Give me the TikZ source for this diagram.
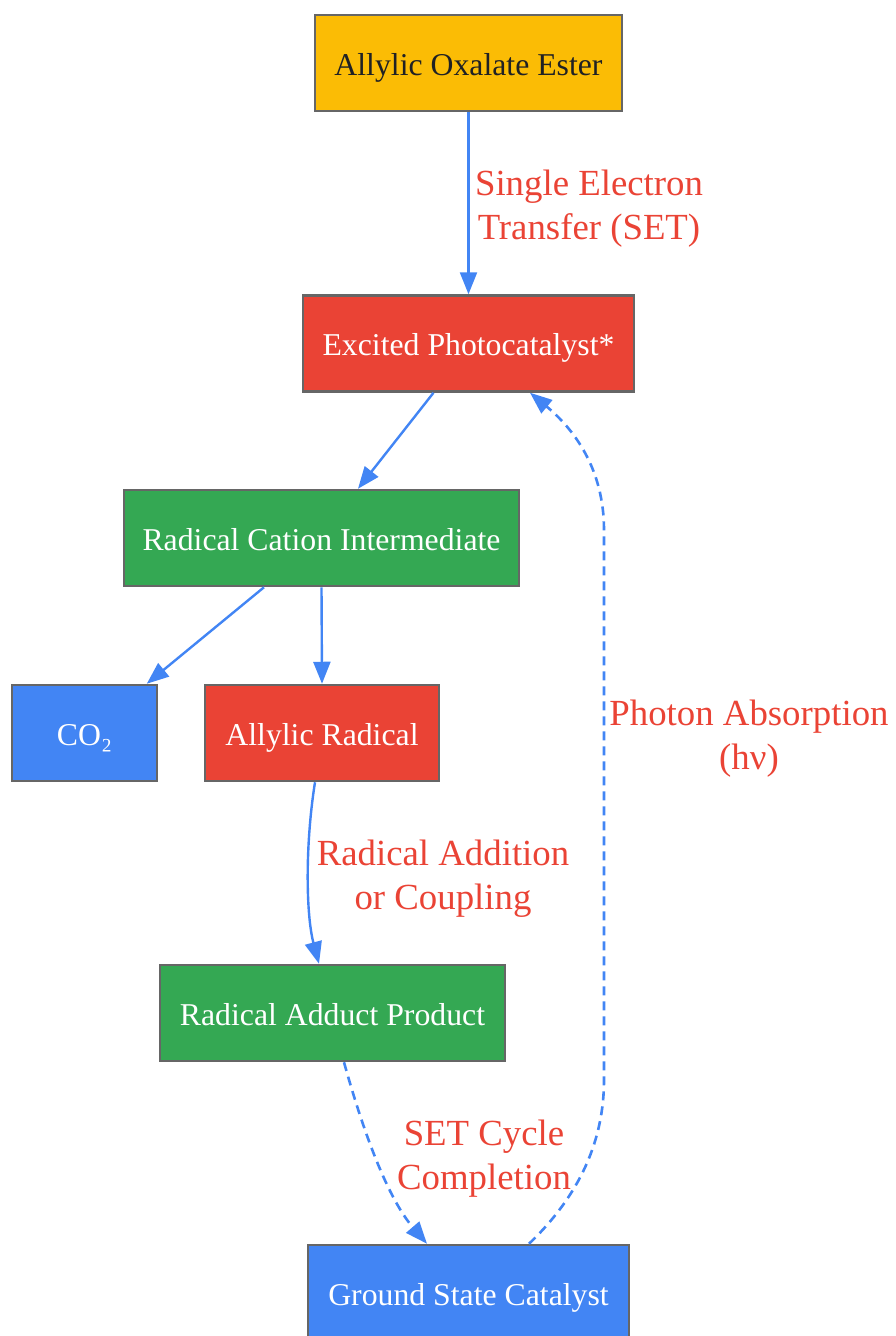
\documentclass[tikz,border=0pt]{standalone}
\usepackage{fontspec}
\setmainfont{Liberation Serif}
\usetikzlibrary{arrows.meta}
\definecolor{cyellow}{HTML}{FBBC05}
\definecolor{cred}{HTML}{EA4335}
\definecolor{cgreen}{HTML}{34A853}
\definecolor{cblue}{HTML}{4285F4}
\definecolor{cborder}{HTML}{666666}
\definecolor{cdark}{HTML}{202124}
\tikzset{
  box/.style={draw=cborder, line width=2.5pt, minimum height=96pt, inner sep=0pt,
    text height=24pt, text depth=0pt,
    font=\fontsize{31.75}{36}\selectfont, text=white},
  lbl/.style={text=cred, align=center, inner sep=0pt,
    font=\fontsize{36.8}{44}\selectfont},
  conn/.style={draw=cblue, line width=2.4pt, -{Triangle[length=22pt,width=17pt]}},
  dconn/.style={conn, line width=2.6pt, dash pattern=on 9pt off 6pt}
}
\begin{document}
\begin{tikzpicture}[x={(1pt,0)}, y={(0,-1pt)}]
\useasboundingbox (0,0) rectangle (895,1336);
\node[box, fill=cyellow, text=cdark, minimum width=307pt] (ester) at (468.5,63) {Allylic Oxalate Ester};
\node[box, fill=cred, minimum width=331pt] (exc) at (468.5,343.5) {Excited Photocatalyst*};
\node[box, fill=cgreen, minimum width=395pt] (cat) at (321.5,538) {Radical Cation Intermediate};
\node[box, fill=cblue, minimum width=145pt] (co2) at (84.5,733) {CO₂};
\node[box, fill=cred, minimum width=234pt] (ar) at (322,733) {Allylic Radical};
\node[box, fill=cgreen, minimum width=345pt] (add) at (332.5,1013) {Radical Adduct Product};
\node[box, fill=cblue, minimum width=321pt] (gs) at (468.5,1293) {Ground State Catalyst};

\draw[conn] (ester.south) -- (exc.north);
\draw[conn] ([xshift=-35pt]exc.south) -- ([xshift=36.5pt]cat.north);
\draw[conn] ([xshift=-57.5pt]cat.south) -- ([xshift=-11.5pt]co2.north east);
\draw[conn] (cat.south) -- (ar.north);
\draw[conn] ([xshift=-7pt]ar.south) .. controls (305,845) and (306,915) .. ([xshift=-13.5pt]add.north);
\draw[dconn] ([xshift=11.5pt]add.south) .. controls (360,1120) and (385,1195) .. ([xshift=-41.5pt]gs.north);
\coordinate (r1) at (604,1080);
\coordinate (r2) at (604,530);
\draw[dconn] ([xshift=60.5pt]gs.north) .. controls (580,1195) and (604,1140) .. (r1) -- (r2) .. controls (604,470) and (575,430) .. ([xshift=61.5pt]exc.south);

\node[lbl] (l1) at (589,209) {Single Electron\\Transfer (SET)};
\node[lbl] (l2) at (443,879) {Radical Addition\\or Coupling};
\node[lbl] (l3) at (484,1159) {SET Cycle\\Completion};
\node[lbl] (l4) at (749,739) {Photon Absorption\\(hν)};
\end{tikzpicture}
\end{document}
